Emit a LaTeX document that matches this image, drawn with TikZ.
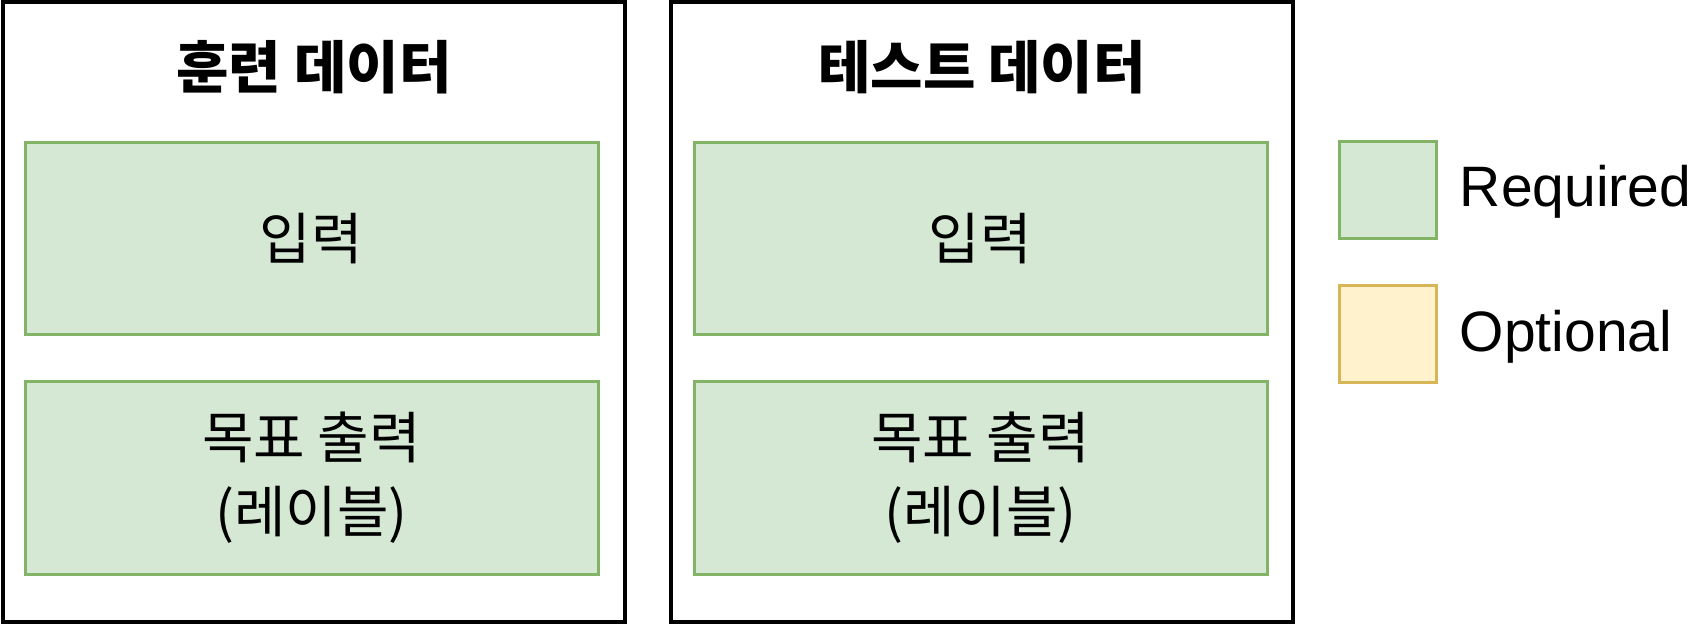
\documentclass[tikz,border=0pt]{standalone}
\usepackage{fontspec}
\setmainfont{Liberation Sans}
\newfontfamily\kr{Noto Sans CJK KR}
\usetikzlibrary{positioning}

\tikzset{
  outerbox/.style={draw=black, line width=1.6pt, minimum width=311pt, minimum height=310pt, inner sep=0pt},
  reqbox/.style={draw=reqline, fill=reqfill, line width=1.5pt, minimum width=286.5pt, minimum height=96pt, align=center, font=\kr\fontsize{28}{37}\selectfont},
  optbox/.style={draw=optline, fill=optfill, line width=1.5pt, minimum width=48.5pt, minimum height=48.5pt},
  keybox/.style={reqbox, minimum width=48.5pt, minimum height=48.5pt},
  title/.style={font=\kr\bfseries\fontsize{28.5}{33}\selectfont},
  legend/.style={anchor=west, inner sep=0pt, font=\fontsize{28.5}{32}\selectfont}
}
\definecolor{reqfill}{HTML}{D5E8D4}
\definecolor{reqline}{HTML}{82B366}
\definecolor{optfill}{HTML}{FFF2CC}
\definecolor{optline}{HTML}{D6B656}

\begin{document}
\begin{tikzpicture}[x=0.5pt, y=-0.5pt]
\useasboundingbox (0,0) rectangle (1696,624);

\node[outerbox] (train) at (314,312) {};
\node[outerbox] (test) at (982,312) {};

\node[title] (trainT) at (314,67) {훈련 데이터};
\node[title] (testT) at (982,67) {테스트 데이터};

\node[reqbox] (trainIn) at (311.5,238.5) {입력};
\node[reqbox] (trainOut) at (311.5,478) {목표 출력\\(레이블)};

\node[reqbox] (testIn) at (980.5,238.5) {입력};
\node[reqbox] (testOut) at (980.5,478) {목표 출력\\(레이블)};

\node[keybox] (keyReq) at (1387.5,190) {};
\node[optbox] (keyOpt) at (1387.5,334.5) {};
\node[legend, right=11pt of keyReq, yshift=-1pt] (txtReq) {Required};
\node[legend, right=11pt of keyOpt, yshift=-1pt] (txtOpt) {Optional};
\end{tikzpicture}
\end{document}
